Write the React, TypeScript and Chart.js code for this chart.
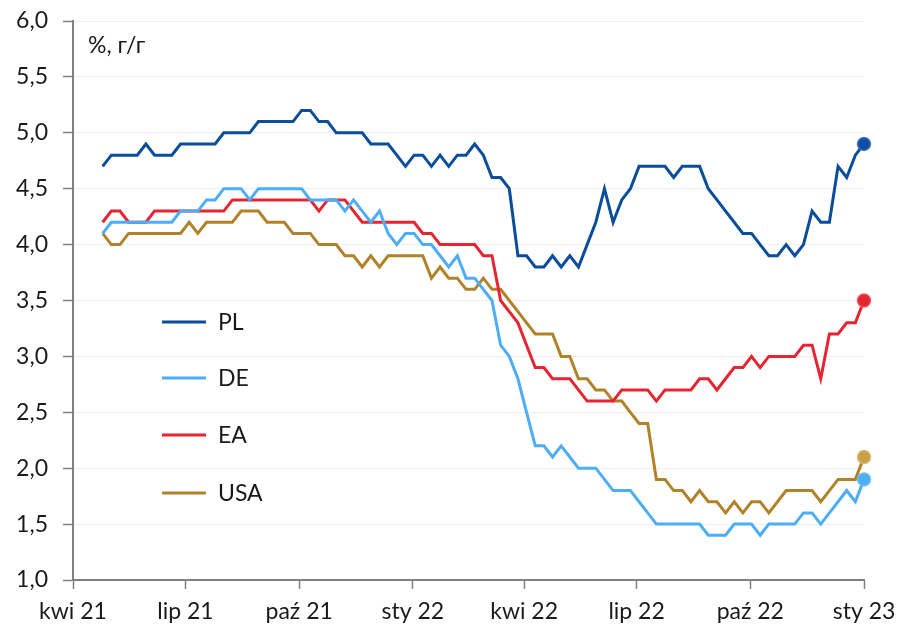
import { useEffect, useRef } from 'react';
import { Chart, registerables } from 'chart.js';

Chart.register(...registerables);

const FONT = "Lato, 'Noto Sans', sans-serif";

// x axis: days since 1 Apr 2021; weekly observations
const tickDays = [0, 91, 183, 275, 365, 456, 548, 640];
const tickLabels = ['kwi 21', 'lip 21', 'paź 21', 'sty 22', 'kwi 22', 'lip 22', 'paź 22', 'sty 23'];
const firstWeekDay = 24;
const weekStep = 7;

const plValues = [
  4.7, 4.8, 4.8, 4.8, 4.8, 4.9, 4.8, 4.8, 4.8, 4.9,
  4.9, 4.9, 4.9, 4.9, 5.0, 5.0, 5.0, 5.0, 5.1, 5.1,
  5.1, 5.1, 5.1, 5.2, 5.2, 5.1, 5.1, 5.0, 5.0, 5.0,
  5.0, 4.9, 4.9, 4.9, 4.8, 4.7, 4.8, 4.8, 4.7, 4.8,
  4.7, 4.8, 4.8, 4.9, 4.8, 4.6, 4.6, 4.5, 3.9, 3.9,
  3.8, 3.8, 3.9, 3.8, 3.9, 3.8, 4.0, 4.2, 4.5, 4.2,
  4.4, 4.5, 4.7, 4.7, 4.7, 4.7, 4.6, 4.7, 4.7, 4.7,
  4.5, 4.4, 4.3, 4.2, 4.1, 4.1, 4.0, 3.9, 3.9, 4.0,
  3.9, 4.0, 4.3, 4.2, 4.2, 4.7, 4.6, 4.8, 4.9,
];

const deValues = [
  4.1, 4.2, 4.2, 4.2, 4.2, 4.2, 4.2, 4.2, 4.2, 4.3,
  4.3, 4.3, 4.4, 4.4, 4.5, 4.5, 4.5, 4.4, 4.5, 4.5,
  4.5, 4.5, 4.5, 4.5, 4.4, 4.4, 4.4, 4.4, 4.3, 4.4,
  4.3, 4.2, 4.3, 4.1, 4.0, 4.1, 4.1, 4.0, 4.0, 3.9,
  3.8, 3.9, 3.7, 3.7, 3.6, 3.5, 3.1, 3.0, 2.8, 2.5,
  2.2, 2.2, 2.1, 2.2, 2.1, 2.0, 2.0, 2.0, 1.9, 1.8,
  1.8, 1.8, 1.7, 1.6, 1.5, 1.5, 1.5, 1.5, 1.5, 1.5,
  1.4, 1.4, 1.4, 1.5, 1.5, 1.5, 1.4, 1.5, 1.5, 1.5,
  1.5, 1.6, 1.6, 1.5, 1.6, 1.7, 1.8, 1.7, 1.9,
];

const eaValues = [
  4.2, 4.3, 4.3, 4.2, 4.2, 4.2, 4.3, 4.3, 4.3, 4.3,
  4.3, 4.3, 4.3, 4.3, 4.3, 4.4, 4.4, 4.4, 4.4, 4.4,
  4.4, 4.4, 4.4, 4.4, 4.4, 4.3, 4.4, 4.4, 4.4, 4.3,
  4.2, 4.2, 4.2, 4.2, 4.2, 4.2, 4.2, 4.1, 4.1, 4.0,
  4.0, 4.0, 4.0, 4.0, 3.9, 3.9, 3.5, 3.4, 3.3, 3.1,
  2.9, 2.9, 2.8, 2.8, 2.8, 2.7, 2.6, 2.6, 2.6, 2.6,
  2.7, 2.7, 2.7, 2.7, 2.6, 2.7, 2.7, 2.7, 2.7, 2.8,
  2.8, 2.7, 2.8, 2.9, 2.9, 3.0, 2.9, 3.0, 3.0, 3.0,
  3.0, 3.1, 3.1, 2.8, 3.2, 3.2, 3.3, 3.3, 3.5,
];

const usaValues = [
  4.1, 4.0, 4.0, 4.1, 4.1, 4.1, 4.1, 4.1, 4.1, 4.1,
  4.2, 4.1, 4.2, 4.2, 4.2, 4.2, 4.3, 4.3, 4.3, 4.2,
  4.2, 4.2, 4.1, 4.1, 4.1, 4.0, 4.0, 4.0, 3.9, 3.9,
  3.8, 3.9, 3.8, 3.9, 3.9, 3.9, 3.9, 3.9, 3.7, 3.8,
  3.7, 3.7, 3.6, 3.6, 3.7, 3.6, 3.6, 3.5, 3.4, 3.3,
  3.2, 3.2, 3.2, 3.0, 3.0, 2.8, 2.8, 2.7, 2.7, 2.6,
  2.6, 2.5, 2.4, 2.4, 1.9, 1.9, 1.8, 1.8, 1.7, 1.8,
  1.7, 1.7, 1.6, 1.7, 1.6, 1.7, 1.7, 1.6, 1.7, 1.8,
  1.8, 1.8, 1.8, 1.7, 1.8, 1.9, 1.9, 1.9, 2.1,
];

const seriesLabels = ['PL', 'DE', 'EA', 'USA'];
const seriesColors = ['#0A4D9B', '#4DADF7', '#E52531', '#B0832A'];
const markerColors = ['#0D4FA3', '#4DADF7', '#E52531', '#C9A04A'];
const markerRings = ['rgba(70,110,190,0.9)', 'rgba(110,190,250,0.9)', 'rgba(235,80,90,0.9)', 'rgba(215,180,100,0.9)'];
const seriesValues = [plValues, deValues, eaValues, usaValues];

const legendY = [322, 378, 435, 493];

const overlayPlugin = {
  id: 'overlay',
  afterDraw(chart: any) {
    const ctx = chart.ctx;
    ctx.save();
    ctx.fillStyle = '#1a1a1a';
    ctx.font = `23px ${FONT}`;
    ctx.textAlign = 'left';
    ctx.textBaseline = 'alphabetic';
    ctx.fillText('%, г/г', 88, 53);
    ctx.textBaseline = 'middle';
    seriesLabels.forEach((lab, i) => {
      ctx.strokeStyle = seriesColors[i];
      ctx.lineWidth = 3;
      ctx.beginPath();
      ctx.moveTo(162, legendY[i]);
      ctx.lineTo(206, legendY[i]);
      ctx.stroke();
      ctx.fillStyle = '#1a1a1a';
      ctx.fillText(lab, 218, legendY[i] + 1);
    });
    ctx.restore();
  },
};

export default function App() {
  const ref = useRef<HTMLCanvasElement>(null);
  useEffect(() => {
    const canvas = ref.current!;
    const datasets = seriesValues.map((vals, s) => ({
      label: seriesLabels[s],
      data: vals.map((v, i) => ({ x: firstWeekDay + weekStep * i, y: v })),
      borderColor: seriesColors[s],
      backgroundColor: markerColors[s],
      borderWidth: 3,
      tension: 0,
      fill: false,
      clip: false,
      pointRadius: (c: any) => (c.dataIndex === vals.length - 1 ? 6.5 : 0),
      pointHoverRadius: 0,
      pointBackgroundColor: markerColors[s],
      pointBorderColor: markerRings[s],
      pointBorderWidth: 1.5,
    }));
    const chart = new Chart(canvas, {
      type: 'line',
      data: { datasets },
      options: {
        animation: false,
        responsive: false,
        events: [],
        layout: { padding: { left: 0, right: 41, top: 21, bottom: 0 } },
        plugins: { legend: { display: false }, tooltip: { enabled: false } },
        scales: {
          x: {
            type: 'linear',
            min: 0,
            max: 640,
            afterBuildTicks: (sc: any) => {
              sc.ticks = tickDays.map((v) => ({ value: v }));
            },
            afterFit: (sc: any) => {
              sc.height = 48;
              sc.paddingLeft = 0;
              sc.paddingRight = 0;
            },
            ticks: {
              callback: (_v: any, i: number) => tickLabels[i],
              font: { family: FONT, size: 23 },
              color: '#1a1a1a',
              padding: 9,
              maxRotation: 0,
              autoSkip: false,
            },
            grid: {
              drawOnChartArea: false,
              drawTicks: true,
              tickLength: 9,
              tickColor: '#808080',
              tickWidth: 1.5,
            },
            border: { color: '#808080', width: 2 },
          },
          y: {
            min: 1,
            max: 6,
            afterFit: (sc: any) => {
              sc.width = 73;
              sc.paddingTop = 0;
              sc.paddingBottom = 0;
            },
            ticks: {
              stepSize: 0.5,
              callback: (v: any) => Number(v).toFixed(1).replace('.', ','),
              font: { family: FONT, size: 23 },
              color: '#1a1a1a',
              padding: 15,
            },
            grid: {
              color: '#eeeeee',
              lineWidth: 1,
              tickLength: 10,
              tickColor: '#808080',
              tickWidth: 1.5,
            },
            border: { color: '#808080', width: 2 },
          },
        },
      },
      plugins: [overlayPlugin],
    } as any);
    return () => chart.destroy();
  }, []);
  return (
    <div style={{ position: 'fixed', left: 0, top: 0, width: 905, height: 628, background: '#fff' }}>
      <canvas ref={ref} width={905} height={628} style={{ display: 'block', width: 905, height: 628 }} />
    </div>
  );
}
